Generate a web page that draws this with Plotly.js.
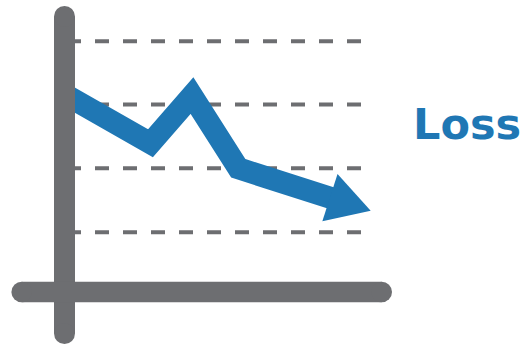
<!DOCTYPE html>
<html>
<head>
<meta charset="utf-8">
<script src="https://cdn.plot.ly/plotly-3.0.1.min.js"></script>
<style>html,body{margin:0;padding:0;background:#fff;}#chart{width:526px;height:345px;}</style>
</head>
<body>
<div id="chart"></div>
<script>
// Loss curve (x, y in chart units; y grows upward)
const lossX = [64.5, 150.5, 192, 238.3, 370.7];
const lossY = [250.7, 201.7, 249.5, 176.7, 134.3];
// Dashed grid levels
const gridY = [303.7, 240.4, 176.7, 112.7];
const gridXStart = 67, gridXEnd = 361;
// Axis frame
const yAxisX = [64.5, 64.5], yAxisY = [328.5, 11.5];
const xAxisX = [21.7, 381.7], xAxisY = [53, 53];
const labelText = 'Loss';

const gray = '#6d6e71';
const blue = '#1f77b4';

const traces = [];
gridY.forEach(g => {
  traces.push({x: [gridXStart, gridXEnd], y: [g, g], mode: 'lines',
    line: {color: gray, width: 4, dash: '14px,14px'}, hoverinfo: 'skip'});
});

// arrow head computed from last segment
const n = lossX.length;
const dx = lossX[n-1] - lossX[n-2], dy = lossY[n-1] - lossY[n-2];
const len = Math.hypot(dx, dy);
const ux = dx/len, uy = dy/len;
const headLen = 42.8, headHalf = 24.9;
const bx = lossX[n-1] - headLen*ux, by = lossY[n-1] - headLen*uy;
const px = -uy, py = ux;
const shaftX = lossX.slice(0, n-1).concat([bx + 2*ux]);
const shaftY = lossY.slice(0, n-1).concat([by + 2*uy]);
traces.push({x: shaftX, y: shaftY, mode: 'lines', line: {color: blue, width: 22}, hoverinfo: 'skip'});
traces.push({x: [bx + headHalf*px, lossX[n-1], bx - headHalf*px, bx + headHalf*px],
             y: [by + headHalf*py, lossY[n-1], by - headHalf*py, by + headHalf*py],
             mode: 'lines', fill: 'toself', fillcolor: blue, line: {width: 0, color: blue}, hoverinfo: 'skip'});

// axes with round ends
[[yAxisX, yAxisY, 21], [xAxisX, xAxisY, 20.6]].forEach(([ax, ay, w]) => {
  traces.push({x: ax, y: ay, mode: 'lines+markers', line: {color: gray, width: w},
    marker: {color: gray, size: w, line: {width: 0}}, hoverinfo: 'skip'});
});

const layout = {
  width: 526, height: 345, margin: {l: 0, r: 0, t: 0, b: 0},
  paper_bgcolor: '#fff', plot_bgcolor: '#fff', showlegend: false,
  xaxis: {range: [0, 526], visible: false, fixedrange: true},
  yaxis: {range: [0, 345], visible: false, fixedrange: true},
  annotations: [{x: 412, y: 221.3, xref: 'x', yref: 'y', text: labelText, showarrow: false,
    xanchor: 'left', yanchor: 'middle', borderpad: 0,
    font: {family: 'DejaVu Sans', size: 43, color: blue, weight: 'bold'}}]
};
Plotly.newPlot('chart', traces, layout, {staticPlot: true, displayModeBar: false});
</script>
</body>
</html>
